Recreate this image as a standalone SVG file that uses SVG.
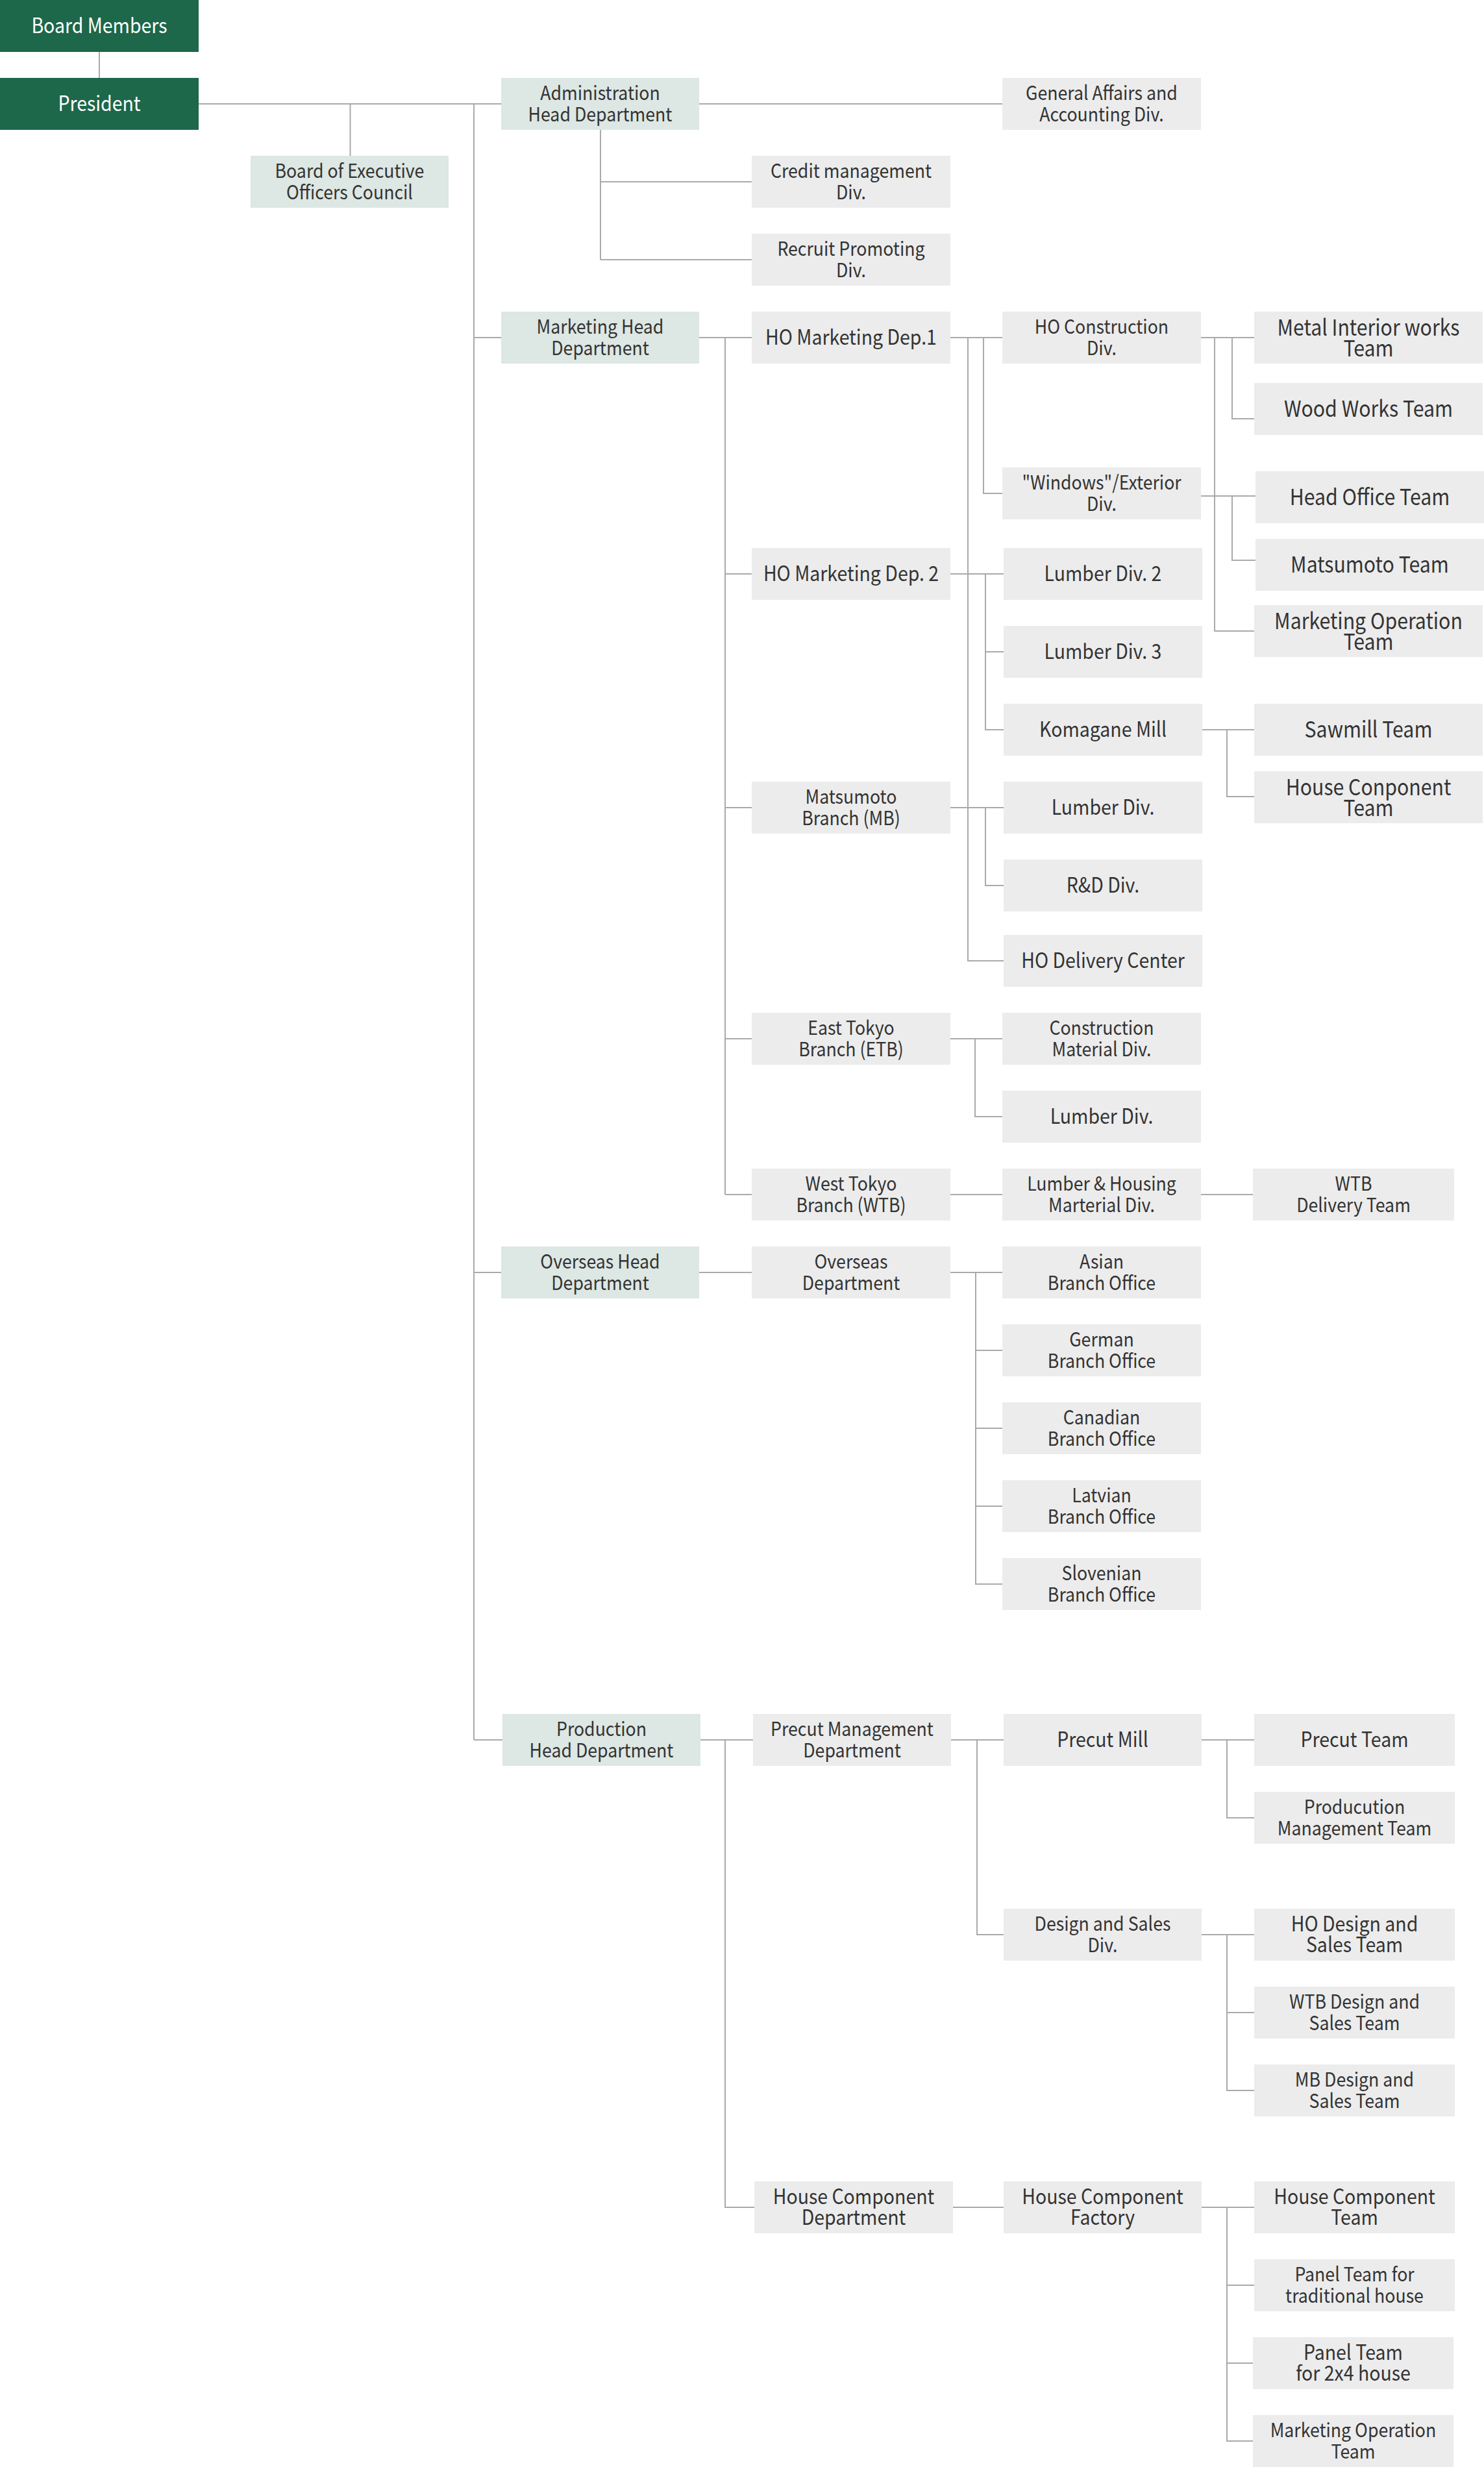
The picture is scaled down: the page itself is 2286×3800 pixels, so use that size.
<svg xmlns="http://www.w3.org/2000/svg" width="2286" height="3800" viewBox="0 0 2286 3800">
<style>
rect{shape-rendering:crispEdges}
.g{fill:#1d674a}
.h{fill:#dde7e3}
.b{fill:#ececec}
text{font-family:"Noto Sans CJK JP","Source Sans Pro","Noto Sans",sans-serif;fill:#333;text-anchor:middle;transform-box:fill-box;transform-origin:50% 50%;transform:scaleX(.89)}
.s{font-size:30px}
.m{font-size:32px}
.l{font-size:34px}
.w{fill:#fff}
#connectors path{fill:none;stroke:#aaaaaa;stroke-width:2}
</style>
<rect width="2286" height="3800" fill="#fff"/>
<g id="connectors">
<path d="M153 80V120 M306 160H772 M539.5 160V240 M730 160V2680 M730 520H772 M730 1960H772 M730 2680H774 M1077 160H1544 M925 200V400 M925 280H1158 M925 400H1158"/>
<path d="M1077 520H1158 M1117 520V1840 M1117 884H1158 M1117 1244H1158 M1117 1600H1158 M1117 1840H1158"/>
<path d="M1464 520H1544 M1491 520V1480H1546 M1515 520V760H1544 M1464 884H1546 M1518 884V1124H1546 M1518 1004H1546 M1464 1244H1546 M1518 1244V1364H1546 M1464 1600H1544 M1502 1600V1720H1544 M1464 1840H1544 M1850 1840H1930"/>
<path d="M1850 520H1932 M1871 520V972H1932 M1898 520V645H1932 M1850 764H1934 M1898 764V863H1934 M1852 1124H1932 M1890 1124V1227H1932"/>
<path d="M1077 1960H1158 M1464 1960H1544 M1503 1960V2440H1544 M1503 2080H1544 M1503 2200H1544 M1503 2320H1544"/>
<path d="M1079 2680H1160 M1117 2680V3400H1162 M1465 2680H1546 M1505 2680V2980H1546 M1851 2680H1932 M1890 2680V2800H1932 M1851 2980H1932 M1890 2980V3220H1932 M1890 3100H1932 M1468 3400H1546 M1851 3400H1932 M1890 3400V3760H1930 M1890 3520H1932 M1890 3640H1930"/>
</g>
<g id="board-members"><rect class="g" x="0" y="0" width="306" height="80"/><text class="m w" x="153" y="51">Board Members</text></g>
<g id="president"><rect class="g" x="0" y="120" width="306" height="80"/><text class="m w" x="153" y="171">President</text></g>
<g id="admin-head"><rect class="h" x="772" y="120" width="305" height="80"/><text class="s" x="924.5" y="154">Administration</text><text class="s" x="924.5" y="187">Head Department</text></g>
<g id="general-affairs"><rect class="b" x="1544" y="120" width="306" height="80"/><text class="s" x="1697" y="154">General Affairs and</text><text class="s" x="1697" y="187">Accounting Div.</text></g>
<g id="board-exec"><rect class="h" x="386" y="240" width="305" height="80"/><text class="s" x="538.5" y="274">Board of Executive</text><text class="s" x="538.5" y="307">Officers Council</text></g>
<g id="credit"><rect class="b" x="1158" y="240" width="306" height="80"/><text class="s" x="1311" y="274">Credit management</text><text class="s" x="1311" y="307">Div.</text></g>
<g id="recruit"><rect class="b" x="1158" y="360" width="306" height="80"/><text class="s" x="1311" y="394">Recruit Promoting</text><text class="s" x="1311" y="427">Div.</text></g>
<g id="marketing-head"><rect class="h" x="772" y="480" width="305" height="80"/><text class="s" x="924.5" y="514">Marketing Head</text><text class="s" x="924.5" y="547">Department</text></g>
<g id="ho-marketing-1"><rect class="b" x="1158" y="480" width="306" height="80"/><text class="m" x="1311" y="531">HO Marketing Dep.1</text></g>
<g id="ho-construction"><rect class="b" x="1544" y="480" width="306" height="80"/><text class="s" x="1697" y="514">HO Construction</text><text class="s" x="1697" y="547">Div.</text></g>
<g id="metal-interior"><rect class="b" x="1932" y="480" width="352" height="80"/><text class="l" x="2108" y="517">Metal Interior works</text><text class="l" x="2108" y="549">Team</text></g>
<g id="wood-works"><rect class="b" x="1932" y="590" width="352" height="80"/><text class="l" x="2108" y="642">Wood Works Team</text></g>
<g id="windows-exterior"><rect class="b" x="1544" y="720" width="306" height="80"/><text class="s" x="1697" y="754">"Windows"/Exterior</text><text class="s" x="1697" y="787">Div.</text></g>
<g id="head-office-team"><rect class="b" x="1934" y="726" width="352" height="80"/><text class="l" x="2110" y="778">Head Office Team</text></g>
<g id="ho-marketing-2"><rect class="b" x="1158" y="844" width="306" height="80"/><text class="m" x="1311" y="895">HO Marketing Dep. 2</text></g>
<g id="lumber-div-2"><rect class="b" x="1546" y="844" width="306" height="80"/><text class="m" x="1699" y="895">Lumber Div. 2</text></g>
<g id="matsumoto-team"><rect class="b" x="1934" y="830" width="352" height="80"/><text class="l" x="2110" y="882">Matsumoto Team</text></g>
<g id="marketing-operation-1"><rect class="b" x="1932" y="932" width="352" height="80"/><text class="l" x="2108" y="969">Marketing Operation</text><text class="l" x="2108" y="1001">Team</text></g>
<g id="lumber-div-3"><rect class="b" x="1546" y="964" width="306" height="80"/><text class="m" x="1699" y="1015">Lumber Div. 3</text></g>
<g id="komagane-mill"><rect class="b" x="1546" y="1084" width="306" height="80"/><text class="m" x="1699" y="1135">Komagane Mill</text></g>
<g id="sawmill-team"><rect class="b" x="1932" y="1084" width="352" height="80"/><text class="l" x="2108" y="1136">Sawmill Team</text></g>
<g id="matsumoto-branch"><rect class="b" x="1158" y="1204" width="306" height="80"/><text class="s" x="1311" y="1238">Matsumoto</text><text class="s" x="1311" y="1271">Branch (MB)</text></g>
<g id="lumber-div-mb"><rect class="b" x="1546" y="1204" width="306" height="80"/><text class="m" x="1699" y="1255">Lumber Div.</text></g>
<g id="house-conponent-team"><rect class="b" x="1932" y="1188" width="352" height="80"/><text class="l" x="2108" y="1225">House Conponent</text><text class="l" x="2108" y="1257">Team</text></g>
<g id="rnd-div"><rect class="b" x="1546" y="1324" width="306" height="80"/><text class="m" x="1699" y="1375">R&amp;D Div.</text></g>
<g id="ho-delivery"><rect class="b" x="1546" y="1440" width="306" height="80"/><text class="m" x="1699" y="1491">HO Delivery Center</text></g>
<g id="east-tokyo"><rect class="b" x="1158" y="1560" width="306" height="80"/><text class="s" x="1311" y="1594">East Tokyo</text><text class="s" x="1311" y="1627">Branch (ETB)</text></g>
<g id="construction-material"><rect class="b" x="1544" y="1560" width="306" height="80"/><text class="s" x="1697" y="1594">Construction</text><text class="s" x="1697" y="1627">Material Div.</text></g>
<g id="lumber-div-etb"><rect class="b" x="1544" y="1680" width="306" height="80"/><text class="m" x="1697" y="1731">Lumber Div.</text></g>
<g id="west-tokyo"><rect class="b" x="1158" y="1800" width="306" height="80"/><text class="s" x="1311" y="1834">West Tokyo</text><text class="s" x="1311" y="1867">Branch (WTB)</text></g>
<g id="lumber-housing"><rect class="b" x="1544" y="1800" width="306" height="80"/><text class="s" x="1697" y="1834">Lumber &amp; Housing</text><text class="s" x="1697" y="1867">Marterial Div.</text></g>
<g id="wtb-delivery"><rect class="b" x="1930" y="1800" width="310" height="80"/><text class="s" x="2085" y="1834">WTB</text><text class="s" x="2085" y="1867">Delivery Team</text></g>
<g id="overseas-head"><rect class="h" x="772" y="1920" width="305" height="80"/><text class="s" x="924.5" y="1954">Overseas Head</text><text class="s" x="924.5" y="1987">Department</text></g>
<g id="overseas-dept"><rect class="b" x="1158" y="1920" width="306" height="80"/><text class="s" x="1311" y="1954">Overseas</text><text class="s" x="1311" y="1987">Department</text></g>
<g id="asian"><rect class="b" x="1544" y="1920" width="306" height="80"/><text class="s" x="1697" y="1954">Asian</text><text class="s" x="1697" y="1987">Branch Office</text></g>
<g id="german"><rect class="b" x="1544" y="2040" width="306" height="80"/><text class="s" x="1697" y="2074">German</text><text class="s" x="1697" y="2107">Branch Office</text></g>
<g id="canadian"><rect class="b" x="1544" y="2160" width="306" height="80"/><text class="s" x="1697" y="2194">Canadian</text><text class="s" x="1697" y="2227">Branch Office</text></g>
<g id="latvian"><rect class="b" x="1544" y="2280" width="306" height="80"/><text class="s" x="1697" y="2314">Latvian</text><text class="s" x="1697" y="2347">Branch Office</text></g>
<g id="slovenian"><rect class="b" x="1544" y="2400" width="306" height="80"/><text class="s" x="1697" y="2434">Slovenian</text><text class="s" x="1697" y="2467">Branch Office</text></g>
<g id="production-head"><rect class="h" x="774" y="2640" width="305" height="80"/><text class="s" x="926.5" y="2674">Production</text><text class="s" x="926.5" y="2707">Head Department</text></g>
<g id="precut-management"><rect class="b" x="1160" y="2640" width="305" height="80"/><text class="s" x="1312.5" y="2674">Precut Management</text><text class="s" x="1312.5" y="2707">Department</text></g>
<g id="precut-mill"><rect class="b" x="1546" y="2640" width="305" height="80"/><text class="m" x="1698.5" y="2691">Precut Mill</text></g>
<g id="precut-team"><rect class="b" x="1932" y="2640" width="309" height="80"/><text class="m" x="2086.5" y="2691">Precut Team</text></g>
<g id="production-management"><rect class="b" x="1932" y="2760" width="309" height="80"/><text class="s" x="2086.5" y="2794">Producution</text><text class="s" x="2086.5" y="2827">Management Team</text></g>
<g id="design-sales"><rect class="b" x="1546" y="2940" width="305" height="80"/><text class="s" x="1698.5" y="2974">Design and Sales</text><text class="s" x="1698.5" y="3007">Div.</text></g>
<g id="ho-design"><rect class="b" x="1932" y="2940" width="309" height="80"/><text class="m" x="2086.5" y="2975">HO Design and</text><text class="m" x="2086.5" y="3007">Sales Team</text></g>
<g id="wtb-design"><rect class="b" x="1932" y="3060" width="309" height="80"/><text class="s" x="2086.5" y="3094">WTB Design and</text><text class="s" x="2086.5" y="3127">Sales Team</text></g>
<g id="mb-design"><rect class="b" x="1932" y="3180" width="309" height="80"/><text class="s" x="2086.5" y="3214">MB Design and</text><text class="s" x="2086.5" y="3247">Sales Team</text></g>
<g id="house-component-dept"><rect class="b" x="1162" y="3360" width="306" height="80"/><text class="m" x="1315" y="3395">House Component</text><text class="m" x="1315" y="3427">Department</text></g>
<g id="house-component-factory"><rect class="b" x="1546" y="3360" width="305" height="80"/><text class="m" x="1698.5" y="3395">House Component</text><text class="m" x="1698.5" y="3427">Factory</text></g>
<g id="house-component-team"><rect class="b" x="1932" y="3360" width="309" height="80"/><text class="m" x="2086.5" y="3395">House Component</text><text class="m" x="2086.5" y="3427">Team</text></g>
<g id="panel-traditional"><rect class="b" x="1932" y="3480" width="309" height="80"/><text class="s" x="2086.5" y="3514">Panel Team for</text><text class="s" x="2086.5" y="3547">traditional house</text></g>
<g id="panel-2x4"><rect class="b" x="1930" y="3600" width="309" height="80"/><text class="m" x="2084.5" y="3635">Panel Team</text><text class="m" x="2084.5" y="3667">for 2x4 house</text></g>
<g id="marketing-operation-2"><rect class="b" x="1930" y="3720" width="309" height="80"/><text class="s" x="2084.5" y="3754">Marketing Operation</text><text class="s" x="2084.5" y="3787">Team</text></g>
</svg>
